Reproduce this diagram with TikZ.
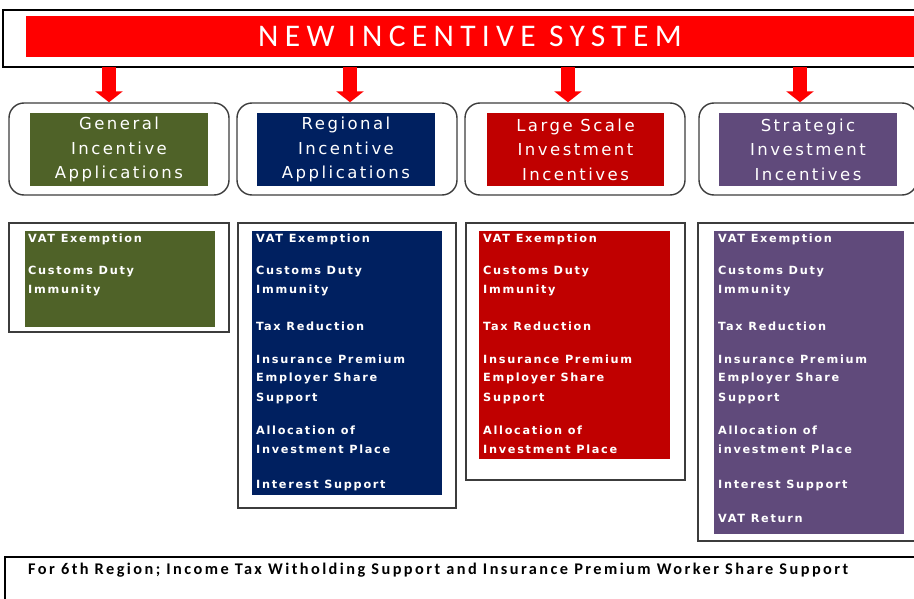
\documentclass[tikz,border=0pt]{standalone}
\usepackage{fontspec}
\usetikzlibrary{arrows.meta}

\newfontfamily\titlefont[LetterSpace=20]{Carlito}
\newfontfamily\notefont[LetterSpace=15]{Carlito}
\newfontfamily\hdrfont[LetterSpace=15]{DejaVu Sans}
\newfontfamily\itemfont[LetterSpace=15]{DejaVu Sans}

\definecolor{titlered}{RGB}{255,0,0}
\definecolor{olivegreen}{RGB}{79,98,40}
\definecolor{navyblue}{RGB}{0,32,96}
\definecolor{darkred}{RGB}{192,0,0}
\definecolor{plum}{RGB}{96,74,123}
\definecolor{framegray}{RGB}{60,60,60}

\tikzset{
  frame/.style={draw=framegray, line width=1.4pt, fill=white, inner sep=0pt},
  roundframe/.style={frame, rounded corners=15pt},
  swatch/.style={inner sep=0pt, text=white},
  hdrtext/.style={swatch, align=center,
    font=\hdrfont\fontsize{16.5}{24.5}\selectfont},
  itemtext/.style={anchor=base west, inner sep=0pt, text=white,
    font=\itemfont\bfseries\fontsize{11.3}{12}\selectfont},
  bigarrow/.style={draw=titlered, line width=14pt,
    -{Triangle[length=11pt,width=27pt]}},
}

\begin{document}
\begin{tikzpicture}[x=1pt,y=-1pt]
\useasboundingbox (0,0) rectangle (914,599);

% title banner
\node[frame, draw=black, minimum width=922pt, minimum height=57pt] (top) at (464,38.5) {};
\node[swatch, fill=titlered, minimum width=889pt, minimum height=41pt,
      font=\titlefont\fontsize{31.5}{34}\selectfont] (title) at (470,36.5) {NEW INCENTIVE SYSTEM};

% incentive groups: rounded frames with coloured headings
\node[roundframe, minimum width=220pt, minimum height=92pt] (h1) at (119,149) {};
\node[roundframe, minimum width=220pt, minimum height=92pt] (h2) at (347,149) {};
\node[roundframe, minimum width=220pt, minimum height=92pt] (h3) at (575,149) {};
\node[roundframe, minimum width=218pt, minimum height=92pt] (h4) at (808,149) {};

\node[hdrtext, fill=olivegreen, minimum width=178pt, minimum height=73pt] (g1) at (119,149.5) {General\\Incentive\\Applications};
\node[hdrtext, fill=navyblue, minimum width=178pt, minimum height=73pt] (g2) at (346,149.5) {Regional\\Incentive\\Applications};
\node[hdrtext, fill=darkred, minimum width=177pt, minimum height=73pt] (g3) at (575.5,149.5) {Large Scale\\Investment\\Incentives};
\node[hdrtext, fill=plum, minimum width=178pt, minimum height=73pt] (g4) at (808,149.5) {Strategic\\Investment\\Incentives};

% arrows from the banner down to each group
\coordinate (a1) at (109,67);
\coordinate (a2) at (350,67);
\coordinate (a3) at (568,67);
\coordinate (a4) at (800,67);
\draw[bigarrow] (a1) -- (a1 |- h1.north);
\draw[bigarrow] (a2) -- (a2 |- h2.north);
\draw[bigarrow] (a3) -- (a3 |- h3.north);
\draw[bigarrow] (a4) -- (a4 |- h4.north);

% lists of incentive instruments
\node[frame, minimum width=220pt, minimum height=109pt] (b1) at (119,277.5) {};
\node[swatch, fill=olivegreen, minimum width=190pt, minimum height=96pt] (c1) at (120,279) {};
\node[frame, minimum width=218pt, minimum height=285pt] (b2) at (347,365.5) {};
\node[swatch, fill=navyblue, minimum width=190pt, minimum height=264pt] (c2) at (347,363) {};
\node[frame, minimum width=219pt, minimum height=257pt] (b3) at (575.5,351.5) {};
\node[swatch, fill=darkred, minimum width=191pt, minimum height=228pt] (c3) at (574.5,345) {};
\node[frame, minimum width=227pt, minimum height=318pt] (b4) at (811.5,382) {};
\node[swatch, fill=plum, minimum width=190pt, minimum height=303pt] (c4) at (809,382.5) {};

\foreach \y/\t [count=\i] in {243/VAT Exemption, 275/Customs Duty, 294/Immunity}
  \node[itemtext] (i1-\i) at (28,\y) {\t};

\foreach \y/\t [count=\i] in {243/VAT Exemption, 275/Customs Duty, 294/Immunity,
    330/Tax Reduction, 363/Insurance Premium, 381/Employer Share, 401/Support,
    434/Allocation of, 453/Investment Place, 488/Interest Support}
  \node[itemtext] (i2-\i) at (256,\y) {\t};

\foreach \y/\t [count=\i] in {243/VAT Exemption, 275/Customs Duty, 294/Immunity,
    330/Tax Reduction, 363/Insurance Premium, 381/Employer Share, 401/Support,
    434/Allocation of, 453/Investment Place}
  \node[itemtext] (i3-\i) at (483,\y) {\t};

\foreach \y/\t [count=\i] in {243/VAT Exemption, 275/Customs Duty, 294/Immunity,
    330/Tax Reduction, 363/Insurance Premium, 381/Employer Share, 401/Support,
    434/Allocation of, 453/investment Place, 488/Interest Support, 522/VAT Return}
  \node[itemtext] (i4-\i) at (718,\y) {\t};

% footnote for the 6th region
\node[frame, draw=black, minimum width=920pt, minimum height=63pt] (note) at (465,588.5) {};
\node[anchor=base west, inner sep=0pt, font=\notefont\bfseries\fontsize{16.3}{18}\selectfont]
  (notetext) at (28,574) {For 6th Region; Income Tax Witholding Support and Insurance Premium Worker Share Support};
\end{tikzpicture}
\end{document}
